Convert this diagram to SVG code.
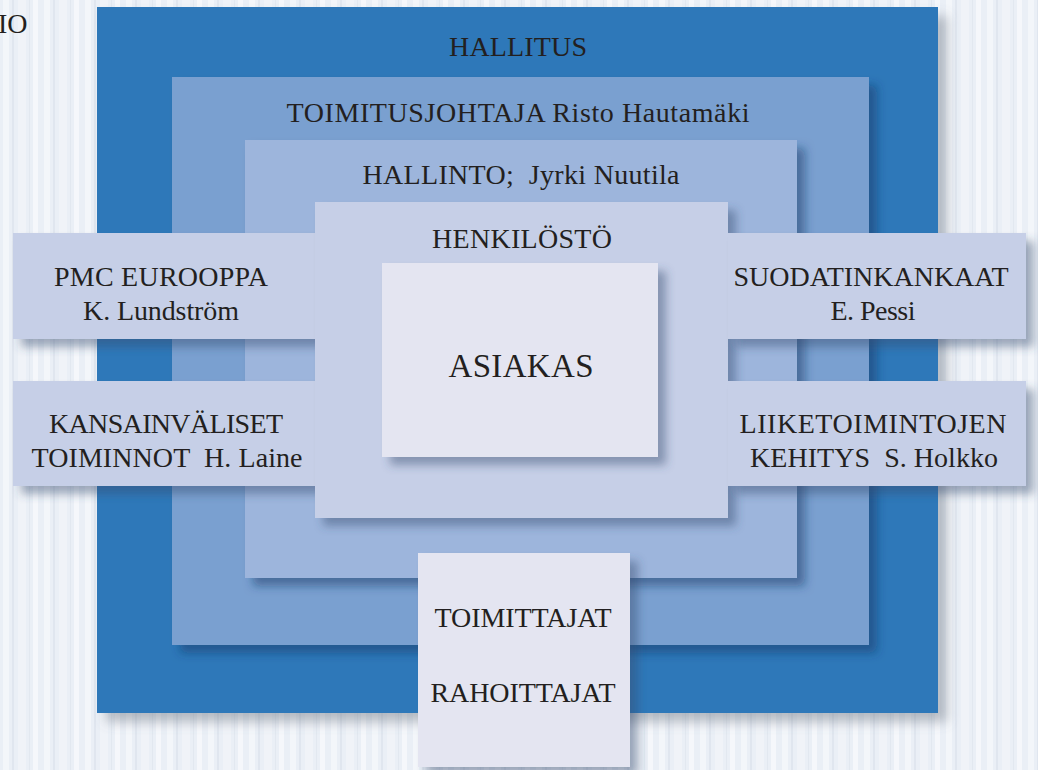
<svg xmlns="http://www.w3.org/2000/svg" width="1038" height="770" viewBox="0 0 1038 770">
  <defs>
    <pattern id="bgpat" x="0" y="0" width="41" height="770" patternUnits="userSpaceOnUse">
      <rect x="0" y="0" width="41" height="770" fill="#eaeff6"/>
      <rect x="3" y="0" width="6" height="770" fill="#f3f6fa"/>
      <rect x="12" y="0" width="2" height="770" fill="#e0e6ef"/>
      <rect x="18" y="0" width="8" height="770" fill="#f0f3f8"/>
      <rect x="29" y="0" width="1" height="770" fill="#e2e8f0"/>
      <rect x="33" y="0" width="5" height="770" fill="#f5f7fb"/>
    </pattern>
    <filter id="shOuter" x="-10%" y="-10%" width="130%" height="130%">
      <feDropShadow dx="9" dy="9" stdDeviation="6" flood-color="#6b7380" flood-opacity="0.45"/>
    </filter>
    <filter id="shInner" x="-20%" y="-20%" width="150%" height="150%">
      <feDropShadow dx="8" dy="8" stdDeviation="5" flood-color="#0c3566" flood-opacity="0.5"/>
    </filter>
    <filter id="shLight" x="-20%" y="-20%" width="150%" height="150%">
      <feDropShadow dx="8" dy="8" stdDeviation="5" flood-color="#334a70" flood-opacity="0.45"/>
    </filter>
  </defs>
  <style>
    text { font-family: "Liberation Serif", "DejaVu Serif", serif; fill: #231f20; font-size: 28px; text-anchor: middle; }
    .big { font-size: 33px; }
    .l1 { fill: #2e78b9; }
    .l2 { fill: #7aa0d0; }
    .l3 { fill: #9db5dc; }
    .l4 { fill: #c6cfe7; }
    .l5 { fill: #e4e5f1; }
  </style>

  <rect x="0" y="0" width="1038" height="770" fill="url(#bgpat)"/>
  <text x="-2" y="33" style="text-anchor:start">IO</text>

  <g id="hallitus">
    <rect class="l1" x="97" y="7" width="841" height="706" filter="url(#shOuter)"/>
    <text x="518" y="56" textLength="138">HALLITUS</text>
  </g>

  <g id="toimitusjohtaja">
    <rect class="l2" x="172" y="77" width="697" height="568" filter="url(#shInner)"/>
    <text x="518" y="122" textLength="463">TOIMITUSJOHTAJA Risto Hautamäki</text>
  </g>

  <g id="hallinto">
    <rect class="l3" x="245" y="140" width="552" height="438" filter="url(#shInner)"/>
    <text x="521" y="184" textLength="317" xml:space="preserve">HALLINTO;  Jyrki Nuutila</text>
  </g>

  <g id="pmc-eurooppa">
    <rect class="l4" x="13" y="233" width="302" height="106" filter="url(#shLight)"/>
    <text x="161" y="286" textLength="214">PMC EUROOPPA</text>
    <text x="161" y="320" textLength="156">K. Lundström</text>
  </g>

  <g id="kansainvaliset">
    <rect class="l4" x="13" y="381" width="302" height="105" filter="url(#shLight)"/>
    <text x="166" y="433" textLength="234">KANSAINVÄLISET</text>
    <text x="167" y="467" textLength="271" xml:space="preserve">TOIMINNOT  H. Laine</text>
  </g>

  <g id="henkilosto">
    <rect class="l4" x="315" y="202" width="413" height="316" filter="url(#shLight)"/>
    <text x="522" y="248" textLength="180">HENKILÖSTÖ</text>
  </g>

  <g id="suodatinkankaat">
    <rect class="l4" x="728" y="233" width="298" height="106" filter="url(#shLight)"/>
    <text x="871" y="286" textLength="275">SUODATINKANKAAT</text>
    <text x="873" y="320" textLength="85">E. Pessi</text>
  </g>

  <g id="liiketoimintojen-kehitys">
    <rect class="l4" x="728" y="381" width="298" height="105" filter="url(#shLight)"/>
    <text x="873" y="433" textLength="267">LIIKETOIMINTOJEN</text>
    <text x="874" y="467" textLength="248" xml:space="preserve">KEHITYS  S. Holkko</text>
  </g>

  <g id="asiakas">
    <rect class="l5" x="382" y="263" width="276" height="194" filter="url(#shLight)"/>
    <text class="big" x="521" y="377" textLength="145">ASIAKAS</text>
  </g>

  <g id="toimittajat-rahoittajat">
    <rect class="l5" x="418" y="553" width="212" height="214" filter="url(#shLight)"/>
    <text x="523" y="627" textLength="177">TOIMITTAJAT</text>
    <text x="523" y="702" textLength="185">RAHOITTAJAT</text>
  </g>

  <g id="connectors"></g>
</svg>
